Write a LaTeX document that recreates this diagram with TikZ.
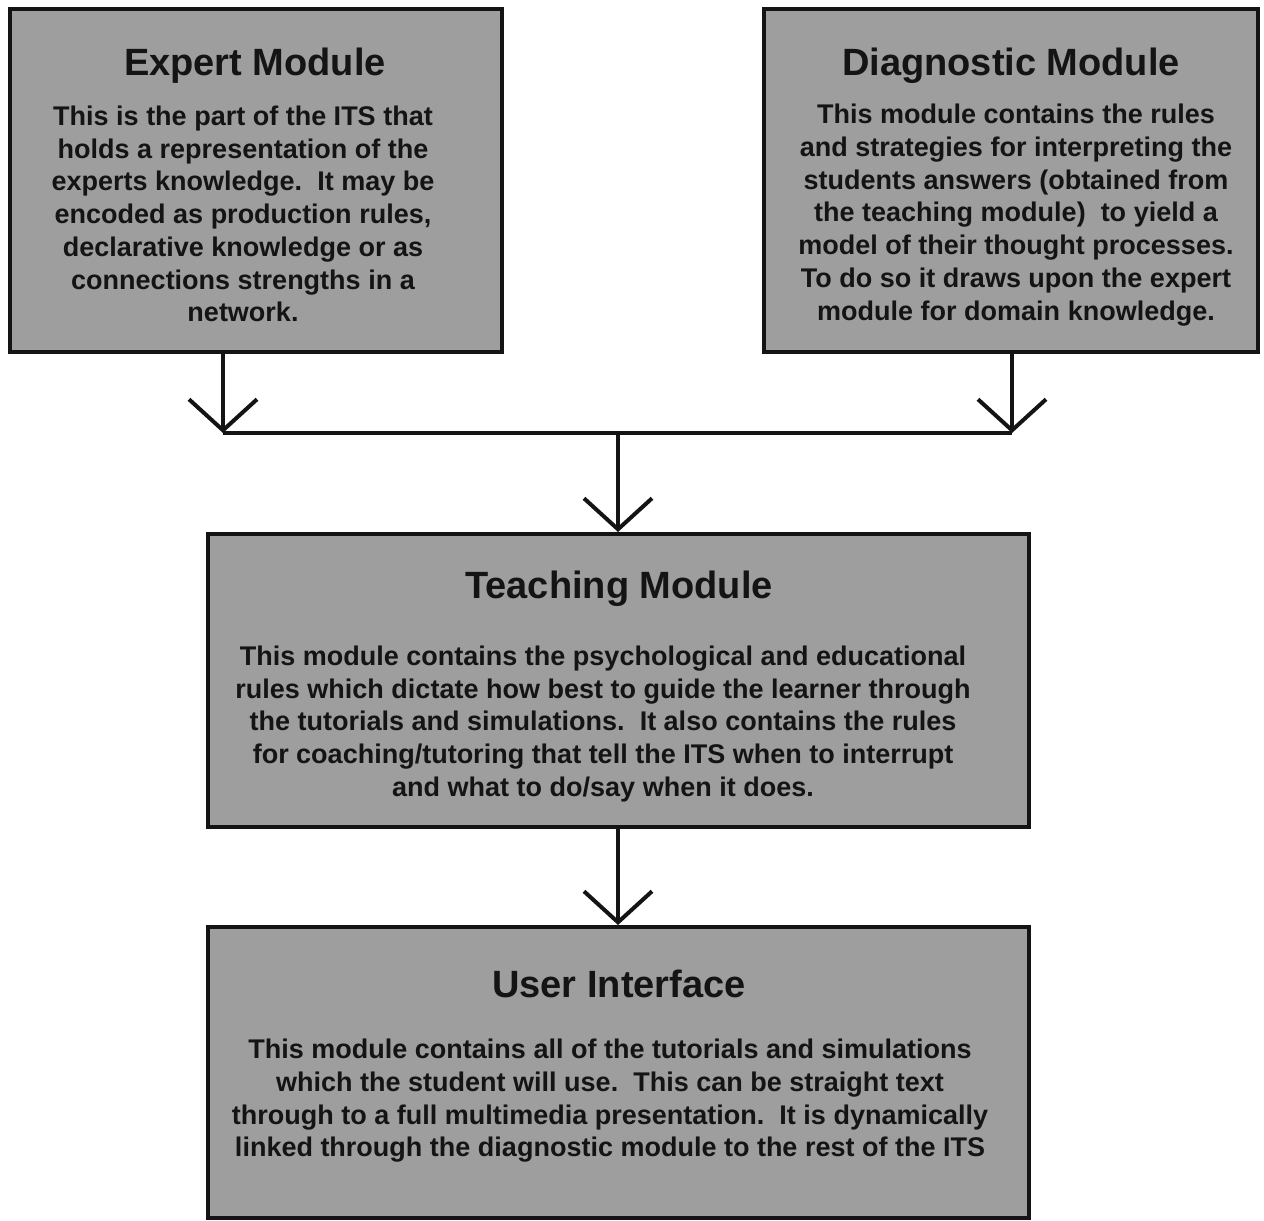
\documentclass[tikz,border=0pt]{standalone}
\usepackage{fontspec}
\setmainfont{Liberation Sans}
\usetikzlibrary{arrows.meta}
\definecolor{boxgray}{RGB}{158,158,158}
\definecolor{ink}{RGB}{20,20,20}
\begin{document}
\begin{tikzpicture}[x=1pt,y=-1pt,
  box/.style={draw=ink, line width=4pt, fill=boxgray, rectangle, inner sep=0pt},
  title/.style={text=ink, font=\bfseries\fontsize{38}{46}\selectfont, inner sep=0pt},
  body/.style={text=ink, font=\bfseries\fontsize{27}{32.7}\selectfont, align=center, inner sep=0pt},
  conn/.style={draw=ink, line width=4pt},
  arr/.style={conn, -{Straight Barb[length=31pt,width=68pt]}}]
\useasboundingbox (0,0) rectangle (1264,1221);
% boxes
\node[box, minimum width=492pt, minimum height=343pt] (e) at (256,180.5) {};
\node[box, minimum width=494pt, minimum height=343pt] (d) at (1011,180.5) {};
\node[box, minimum width=821pt, minimum height=293pt] (t) at (618.5,680.5) {};
\node[box, minimum width=821pt, minimum height=291pt] (u) at (618.5,1072.5) {};
% titles
\node[title] (et) at (255,66) {Expert Module};
\node[title] (dt) at (1011,66) {Diagnostic Module};
\node[title] (tt) at (619,589) {Teaching Module};
\node[title] (ut) at (619,984) {User Interface};
% bodies
\node[body] (eb) at (243,214) {This is the part of the ITS that\\holds a representation of the\\experts knowledge.\ \ It may be\\encoded as production rules,\\declarative knowledge or as\\connections strengths in a\\network.};
\node[body] (db) at (1016,215) {This module contains the rules\\and strategies for interpreting the\\students answers (obtained from\\the teaching module)\ \ to yield a\\model of their thought processes.\\To do so it draws upon the expert\\module for domain knowledge.};
\node[body] (tb) at (603,724) {This module contains the psychological and educational\\rules which dictate how best to guide the learner through\\the tutorials and simulations.\ \ It also contains the rules\\for coaching/tutoring that tell the ITS when to interrupt\\and what to do/say when it does.};
\node[body] (ub) at (610,1101) {This module contains all of the tutorials and simulations\\which the student will use.\ \ This can be straight text\\through to a full multimedia presentation.\ \ It is dynamically\\linked through the diagnostic module to the rest of the ITS};
% connectors
\coordinate (jl) at (223,433);
\coordinate (jr) at (1012,433);
\coordinate (jc) at (618,433);
\draw[arr] (jl |- e.south) -- (jl);
\draw[arr] (jr |- d.south) -- (jr);
\draw[conn] (jl) -- (jr);
\draw[arr] (jc) -- (jc |- t.north);
\draw[arr] (jc |- t.south) -- (jc |- u.north);
\end{tikzpicture}
\end{document}
